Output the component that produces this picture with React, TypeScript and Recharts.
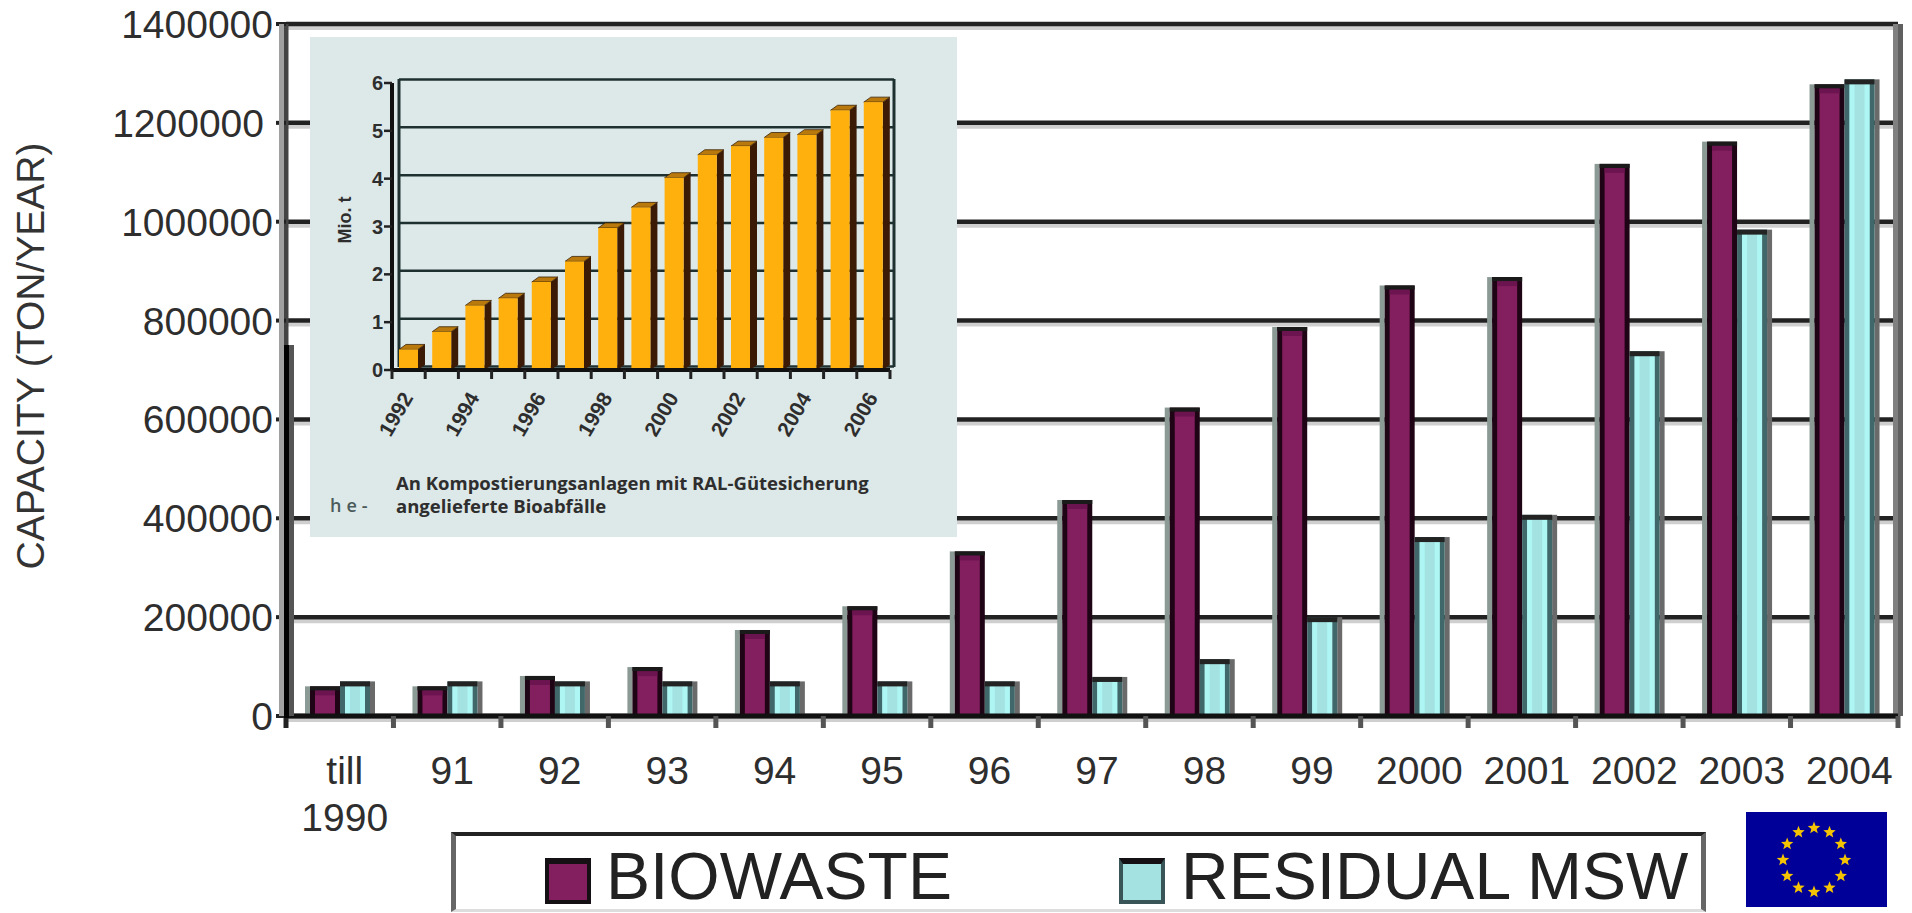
import { BarChart, Bar, XAxis, YAxis, CartesianGrid, Legend, Label } from "recharts"

const CATEGORIES = ["till 1990", "91", "92", "93", "94", "95", "96", "97", "98", "99", "2000", "2001", "2002", "2003", "2004"]
const BIOWASTE = [60000, 60000, 81000, 99000, 174000, 222000, 333000, 437000, 624000, 787000, 871000, 888000, 1117000, 1162000, 1278000]
const RESIDUAL_MSW = [70000, 70000, 70000, 70000, 70000, 70000, 70000, 79000, 115000, 200000, 362000, 407000, 738000, 984000, 1288000]
const CAPACITY_TICKS = [0, 200000, 400000, 600000, 800000, 1000000, 1200000, 1400000]

const INSET_YEARS = ["1992", "1993", "1994", "1995", "1996", "1997", "1998", "1999", "2000", "2001", "2002", "2003", "2004", "2005", "2006"]
const INSET_TONNES = [0.43, 0.8, 1.35, 1.5, 1.84, 2.27, 2.97, 3.4, 4.02, 4.5, 4.68, 4.86, 4.92, 5.43, 5.6]
const INSET_TICKS = [0, 1, 2, 3, 4, 5, 6]

const capacityData = CATEGORIES.map((category, i) => ({ category, biowaste: BIOWASTE[i], residual: RESIDUAL_MSW[i] }))
const insetData = INSET_YEARS.map((year, i) => ({ year, tonnes: INSET_TONNES[i] }))

const FONT = "'Liberation Sans', Arial, sans-serif"
const CAPTION_FONT = "'Open Sans', sans-serif"
const TEXT = "#2e2e2e"
const WIDTH = 1912
const HEIGHT = 913
const PLOT_STEP = (1898 - 286) / CATEGORIES.length
const INSET_STEP = 498 / INSET_YEARS.length

// purple column: grey fringe on the left, dark outline, heavy dark cap
function BiowasteBar({ x, y, width, height, fill }: any) {
  return (
    <g>
      <rect x={x} y={y} width={5} height={height} fill="#8b9a95" />
      <rect x={x + 5} y={y} width={width - 5} height={height} fill="#1e0414" />
      <rect x={x + 10} y={y + 4} width={width - 15} height={Math.max(height - 4, 0)} fill={fill} />
      <rect x={x + 10} y={y + 4} width={width - 15} height={5} fill="#6b1450" />
      <rect x={x + 5} y={y} width={width - 5} height={4} fill="#1a1a1a" />
    </g>
  )
}

// cyan column: teal outline, grey fringe on the right
function ResidualBar({ x, y, width, height, fill }: any) {
  return (
    <g>
      <rect x={x + width - 5} y={y} width={5} height={height} fill="#6a6a6a" />
      <rect x={x} y={y} width={width - 5} height={height} fill="#40686a" />
      <rect x={x + 5} y={y + 4} width={width - 15} height={Math.max(height - 4, 0)} fill={fill} />
      <rect x={x + 5} y={y + 4} width={5} height={Math.max(height - 4, 0)} fill="#aef6f4" />
      <rect x={x + width - 15} y={y + 4} width={5} height={Math.max(height - 4, 0)} fill="#aef6f4" />
      <rect x={x} y={y} width={width - 5} height={5} fill="#232323" />
    </g>
  )
}

// front, lid and side of the extruded orange columns
function Column3D({ x, y, width, height }: any) {
  const right = x + width
  const dx = 7
  const dy = 5
  return (
    <g>
      <polygon points={`${right},${y} ${right + dx},${y - dy} ${right + dx},${y + height - dy} ${right},${y + height}`} fill="#3b1a06" />
      <polygon points={`${x},${y} ${x + dx},${y - dy} ${right + dx},${y - dy} ${right},${y}`} fill="#b9790c" stroke="#3b2206" strokeWidth={0.8} />
      <rect x={x} y={y} width={width} height={height} fill="#ffb00d" />
    </g>
  )
}

function ValueTick({ x, y, payload }: any) {
  const nudge = payload.value === 1200000 ? 9 : 0
  return (
    <text x={x - nudge} y={y} dy="0.36em" textAnchor="end" fontFamily={FONT} fontSize={39} fill={TEXT}>
      {payload.value}
    </text>
  )
}

function CategoryTick({ x, payload, index }: any) {
  const lines = String(payload.value).split(" ")
  const axisY = 716
  return (
    <g>
      {index === 0 && <line x1={x - PLOT_STEP / 2} x2={x - PLOT_STEP / 2} y1={axisY} y2={axisY + 12} stroke="#222" strokeWidth={5} />}
      <line x1={x + PLOT_STEP / 2} x2={x + PLOT_STEP / 2} y1={axisY} y2={axisY + 12} stroke="#555" strokeWidth={5} />
      {lines.map((line, i) => (
        <text key={line} x={x + 5} y={784 + i * 47} textAnchor="middle" fontFamily={FONT} fontSize={39} fill={TEXT}>
          {line}
        </text>
      ))}
    </g>
  )
}

function YearTick({ x, payload, index }: any) {
  const axisY = 333
  return (
    <g>
      {index === 0 && <line x1={x - INSET_STEP / 2} x2={x - INSET_STEP / 2} y1={axisY} y2={axisY + 9} stroke="#222" strokeWidth={3} />}
      <line x1={x + INSET_STEP / 2} x2={x + INSET_STEP / 2} y1={axisY} y2={axisY + 9} stroke="#222" strokeWidth={3} />
      {index % 2 === 0 && (
        <text
          transform={`translate(${x - 13},${axisY + 44}) rotate(-60)`}
          textAnchor="middle"
          dominantBaseline="central"
          fontFamily={FONT}
          fontSize={21}
          fontWeight={700}
          fill="#2e2e2e"
        >
          {payload.value}
        </text>
      )}
    </g>
  )
}

function ChartLegend({ payload }: any) {
  const slots = [
    { swatch: 94, label: 155 },
    { swatch: 668, label: 730 },
  ]
  return (
    <div style={{ position: "relative", width: 1255, height: 80, boxSizing: "border-box", borderTop: "4px solid #222", borderLeft: "5px solid #666", borderRight: "5px solid #666", borderBottom: "3px solid #ddd" }}>
      {(payload ?? []).map((item: any, i: number) => (
        <div key={item.value}>
          <div style={{ position: "absolute", left: slots[i].swatch - 5, top: 22, width: 46, height: 46, boxSizing: "border-box", background: item.color, border: `4px solid ${i === 0 ? "#141014" : "#3a5557"}`, borderTopWidth: 6, borderTopColor: "#141014" }} />
          <span style={{ position: "absolute", left: slots[i].label - 5, top: 10, fontFamily: FONT, fontSize: 66, lineHeight: "60px", color: "#222", whiteSpace: "nowrap" }}>{item.value}</span>
        </div>
      ))}
    </div>
  )
}

function Inset() {
  return (
    <div style={{ position: "absolute", left: 310, top: 37, width: 647, height: 500, background: "#dde8e8" }}>
      <BarChart width={647} height={500} data={insetData} margin={{ top: 46, right: 67, bottom: 0, left: 0 }} barSize={19}>
        <CartesianGrid
          vertical={false}
          horizontal={(props: any) => <line key={props.key} x1={props.x1 + 7} x2={props.x2 + 4} y1={props.y1 - 3.5} y2={props.y2 - 3.5} stroke="#1f3030" strokeWidth={2.5} />}
        />
        <CartesianGrid horizontal={false} verticalPoints={[89, 584]} y={42} height={288} stroke="#1f3030" strokeWidth={3} />
        <XAxis dataKey="year" height={167} interval={0} tickLine={false} axisLine={{ stroke: "#111", strokeWidth: 4 }} tick={<YearTick />} />
        <YAxis
          width={82}
          domain={[0, 6]}
          ticks={INSET_TICKS}
          tickSize={8}
          tickMargin={1}
          tickLine={{ stroke: "#222", strokeWidth: 2.5 }}
          axisLine={{ stroke: "#111", strokeWidth: 4 }}
          tick={{ fontFamily: FONT, fontSize: 20, fontWeight: 700, fill: "#2e2e2e" }}
        >
          <Label
            content={() => (
              <text transform="translate(35,183) rotate(-90)" dominantBaseline="central" textAnchor="middle" fontFamily={FONT} fontSize={18} fontWeight={700} fill="#2e2e2e">
                Mio. t
              </text>
            )}
          />
        </YAxis>
        <Bar dataKey="tonnes" isAnimationActive={false} shape={<Column3D />} />
      </BarChart>
      <div style={{ position: "absolute", left: 86, top: 434, fontFamily: CAPTION_FONT, fontSize: 18.5, fontWeight: 700, lineHeight: "23px", color: "#2e2e2e", whiteSpace: "nowrap" }}>
        An Kompostierungsanlagen mit RAL-Gütesicherung
        <br />
        angelieferte Bioabfälle
      </div>
      <div style={{ position: "absolute", left: 20, top: 457, fontFamily: CAPTION_FONT, fontSize: 18, lineHeight: "23px", fontWeight: 600, letterSpacing: 5, color: "#4a5a5a" }}>he-</div>
    </div>
  )
}

function EuFlag() {
  const stars = Array.from({ length: 12 }, (_, i) => {
    const angle = (i * Math.PI) / 6
    const cx = 68 + 31 * Math.sin(angle)
    const cy = 48 - 32 * Math.cos(angle)
    const points = Array.from({ length: 10 }, (_, k) => {
      const r = k % 2 === 0 ? 6.5 : 2.8
      const a = (k * Math.PI) / 5
      return `${(cx + r * Math.sin(a)).toFixed(1)},${(cy - r * Math.cos(a)).toFixed(1)}`
    })
    return <polygon key={i} points={points.join(" ")} fill="#f5c400" />
  })
  return (
    <svg width={141} height={95} style={{ position: "absolute", left: 1746, top: 812 }}>
      <rect width={141} height={95} fill="#000099" />
      {stars}
    </svg>
  )
}

export default function App() {
  return (
    <div style={{ position: "absolute", left: 0, top: 0, width: WIDTH, height: HEIGHT, background: "#fff", overflow: "hidden" }}>
      <BarChart width={WIDTH} height={HEIGHT} data={capacityData} margin={{ top: 24, right: 14, bottom: 0, left: 0 }} barSize={35} barGap={0}>
        <CartesianGrid
          vertical={false}
          horizontal={(props: any) => (
            <g key={props.key}>
              <line x1={props.x1} x2={props.x2} y1={props.y1 + 4} y2={props.y2 + 4} stroke="#cfcfcf" strokeWidth={4} />
              <line x1={props.x1} x2={props.x2} y1={props.y1} y2={props.y2} stroke="#222" strokeWidth={4.5} />
            </g>
          )}
        />
        <CartesianGrid
          horizontal={false}
          verticalPoints={[1898]}
          vertical={(props: any) => (
            <g key={props.key}>
              <line x1={props.x1 - 2.5} x2={props.x2 - 2.5} y1={props.y1} y2={props.y2} stroke="#808080" strokeWidth={5} />
              <line x1={props.x1 + 2.5} x2={props.x2 + 2.5} y1={props.y1} y2={props.y2} stroke="#606060" strokeWidth={5} />
            </g>
          )}
        />
        <XAxis dataKey="category" height={197} interval={0} tickLine={false} axisLine={{ stroke: "#111", strokeWidth: 5 }} tick={<CategoryTick />} />
        <YAxis
          width={286}
          domain={[0, 1400000]}
          ticks={CAPACITY_TICKS}
          tickSize={10}
          tickMargin={3}
          tickLine={{ stroke: "#222", strokeWidth: 4 }}
          axisLine={{ stroke: "#444", strokeWidth: 5 }}
          tick={<ValueTick />}
        >
          <Label
            content={() => (
              <text transform="translate(30,356) rotate(-90)" dominantBaseline="central" textAnchor="middle" fontFamily={FONT} fontSize={39} fill="#333">
                CAPACITY (TON/YEAR)
              </text>
            )}
          />
        </YAxis>
        <Legend
          layout="horizontal"
          verticalAlign="middle"
          content={<ChartLegend />}
          wrapperStyle={{ position: "absolute", left: 451, top: 832, width: 1255, height: 80 }}
        />
        <Bar name="BIOWASTE" dataKey="biowaste" fill="#841f5f" isAnimationActive={false} shape={<BiowasteBar />} />
        <Bar name="RESIDUAL MSW" dataKey="residual" fill="#a3e2e1" isAnimationActive={false} shape={<ResidualBar />} />
      </BarChart>
      {/* the value axis is doubled up along its lower run */}
      <div style={{ position: "absolute", left: 279, top: 24, width: 5, height: 692, background: "#a0a0a0" }} />
      <div style={{ position: "absolute", left: 284, top: 345, width: 5, height: 373, background: "#000" }} />
      <div style={{ position: "absolute", left: 289, top: 345, width: 5, height: 371, background: "#555" }} />
      <Inset />
      <EuFlag />
    </div>
  )
}
